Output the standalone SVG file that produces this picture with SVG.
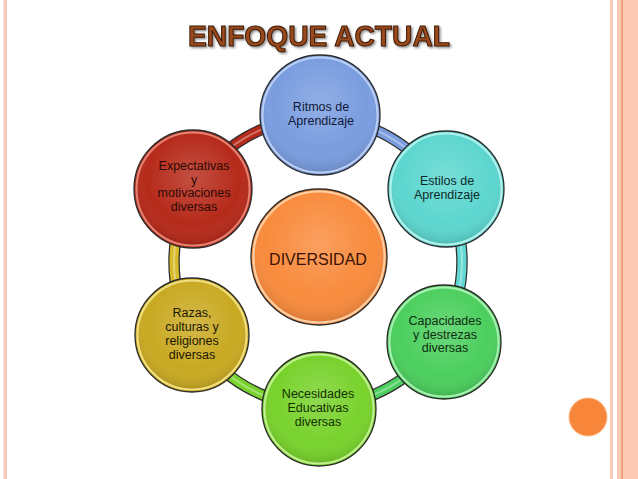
<svg xmlns="http://www.w3.org/2000/svg" width="638" height="479" viewBox="0 0 638 479">
<defs>
<radialGradient id="shine" cx="50%" cy="40%" r="60%">
<stop offset="0" stop-color="#ffffff" stop-opacity="0.18"/>
<stop offset="0.7" stop-color="#ffffff" stop-opacity="0"/>
<stop offset="1" stop-color="#000000" stop-opacity="0.12"/>
</radialGradient>
<filter id="tshadow" x="-10%" y="-30%" width="120%" height="160%">
<feDropShadow dx="1.5" dy="1.5" stdDeviation="1" flood-color="#000" flood-opacity="0.45"/>
</filter>
</defs>
<style>
.arcO{fill:none;stroke:#2e2e2e;stroke-width:11.5}
.arcC{fill:none;stroke-width:9}
.arcH{fill:none;stroke:#ffffff;stroke-opacity:0.35;stroke-width:2}
.ring{stroke:#2a2a2a;stroke-width:1.3}
.rim{fill:none;stroke-width:2}
.t{font-family:"Liberation Sans",Arial,sans-serif;font-size:12.5px;text-anchor:middle}
</style>
<rect width="638" height="479" fill="#ffffff"/>
<g id="border">
<rect x="3.5" y="0" width="3.5" height="479" fill="#f4cbbd"/>
<rect x="610" y="0" width="3" height="479" fill="#f9cbb8"/>
<rect x="617" y="0" width="21" height="479" fill="#fcc9b4"/>
<rect x="621.5" y="0" width="1.3" height="479" fill="#e8906a"/>
<circle cx="588" cy="417" r="19" fill="#f7863a" stroke="#fbb584" stroke-width="1"/>
</g>
<g id="title">
<text x="319" y="46" font-family="'Liberation Sans',Arial,sans-serif" font-weight="bold" font-size="29" text-anchor="middle" textLength="262" lengthAdjust="spacingAndGlyphs" fill="#9a4a1c" stroke="#3a1806" stroke-width="1" filter="url(#tshadow)">ENFOQUE ACTUAL</text>
</g>
<g id="connectors">
<path class="arcO" d="M318 118 A144 144 0 0 1 442.7 190"/>
<path class="arcC" stroke="#7a9de0" d="M318 118 A144 144 0 0 1 442.7 190"/>
<path class="arcH" d="M318 118 A144 144 0 0 1 442.7 190"/>
<path class="arcO" d="M442.7 190 A144 144 0 0 1 442.7 334"/>
<path class="arcC" stroke="#62d8d2" d="M442.7 190 A144 144 0 0 1 442.7 334"/>
<path class="arcH" d="M442.7 190 A144 144 0 0 1 442.7 334"/>
<path class="arcO" d="M442.7 334 A144 144 0 0 1 318 406"/>
<path class="arcC" stroke="#4ccf5e" d="M442.7 334 A144 144 0 0 1 318 406"/>
<path class="arcH" d="M442.7 334 A144 144 0 0 1 318 406"/>
<path class="arcO" d="M318 406 A144 144 0 0 1 193.3 334"/>
<path class="arcC" stroke="#78d22c" d="M318 406 A144 144 0 0 1 193.3 334"/>
<path class="arcH" d="M318 406 A144 144 0 0 1 193.3 334"/>
<path class="arcO" d="M193.3 334 A144 144 0 0 1 193.3 190"/>
<path class="arcC" stroke="#d8bb2a" d="M193.3 334 A144 144 0 0 1 193.3 190"/>
<path class="arcH" d="M193.3 334 A144 144 0 0 1 193.3 190"/>
<path class="arcO" d="M193.3 190 A144 144 0 0 1 318 118"/>
<path class="arcC" stroke="#b62a1a" d="M193.3 190 A144 144 0 0 1 318 118"/>
<path class="arcH" d="M193.3 190 A144 144 0 0 1 318 118"/>
</g>
<g id="n-center">
<circle class="ring" cx="319" cy="257" r="68" fill="#f98b3d"/>
<circle class="rim" cx="319" cy="257" r="65.5" stroke="#fcd0a8"/>
<circle cx="319" cy="257" r="64.5" fill="url(#shine)"/>
<text x="318" y="265" font-family="'Liberation Sans',Arial,sans-serif" font-size="16" text-anchor="middle" fill="#3a1204">DIVERSIDAD</text>
</g>
<g id="n-ritmos">
<circle class="ring" cx="320" cy="115" r="60" fill="#7a9de0"/>
<circle class="rim" cx="320" cy="115" r="57.5" stroke="#bccff3"/>
<circle cx="320" cy="115" r="56.5" fill="url(#shine)"/>
<text class="t" fill="#101838"><tspan x="321" y="111">Ritmos de</tspan><tspan x="321" y="125">Aprendizaje</tspan></text>
</g>
<g id="n-estilos">
<circle class="ring" cx="446" cy="189" r="58" fill="#5cd6cf"/>
<circle class="rim" cx="446" cy="189" r="55.5" stroke="#b4f1ed"/>
<circle cx="446" cy="189" r="54.5" fill="url(#shine)"/>
<text class="t" fill="#0c2a2a"><tspan x="447" y="185">Estilos de</tspan><tspan x="447" y="199">Aprendizaje</tspan></text>
</g>
<g id="n-capacidades">
<circle class="ring" cx="444" cy="342" r="57" fill="#4ccf5e"/>
<circle class="rim" cx="444" cy="342" r="54.5" stroke="#aaf0b2"/>
<circle cx="444" cy="342" r="53.5" fill="url(#shine)"/>
<text class="t" fill="#0e2e10"><tspan x="445" y="325">Capacidades</tspan><tspan x="445" y="338.5">y destrezas</tspan><tspan x="445" y="352">diversas</tspan></text>
</g>
<g id="n-necesidades">
<circle class="ring" cx="319" cy="409" r="57" fill="#78d22c"/>
<circle class="rim" cx="319" cy="409" r="54.5" stroke="#c2f092"/>
<circle cx="319" cy="409" r="53.5" fill="url(#shine)"/>
<text class="t" fill="#143000"><tspan x="318" y="398">Necesidades</tspan><tspan x="318" y="412">Educativas</tspan><tspan x="318" y="425.5">diversas</tspan></text>
</g>
<g id="n-razas">
<circle class="ring" cx="192" cy="335" r="57" fill="#c9a922"/>
<circle class="rim" cx="192" cy="335" r="54.5" stroke="#f0e082"/>
<circle cx="192" cy="335" r="53.5" fill="url(#shine)"/>
<text class="t" fill="#1c1600"><tspan x="192" y="317">Razas,</tspan><tspan x="192" y="331">culturas y</tspan><tspan x="192" y="345">religiones</tspan><tspan x="192" y="358.5">diversas</tspan></text>
</g>
<g id="n-expectativas">
<circle class="ring" cx="193" cy="189" r="59" fill="#b62a1a"/>
<circle class="rim" cx="193" cy="189" r="56.5" stroke="#e58374"/>
<circle cx="193" cy="189" r="55.5" fill="url(#shine)"/>
<text class="t" fill="#2e0803"><tspan x="194" y="170">Expectativas</tspan><tspan x="194" y="183.5">y</tspan><tspan x="194" y="197">motivaciones</tspan><tspan x="194" y="210.5">diversas</tspan></text>
</g>
</svg>
